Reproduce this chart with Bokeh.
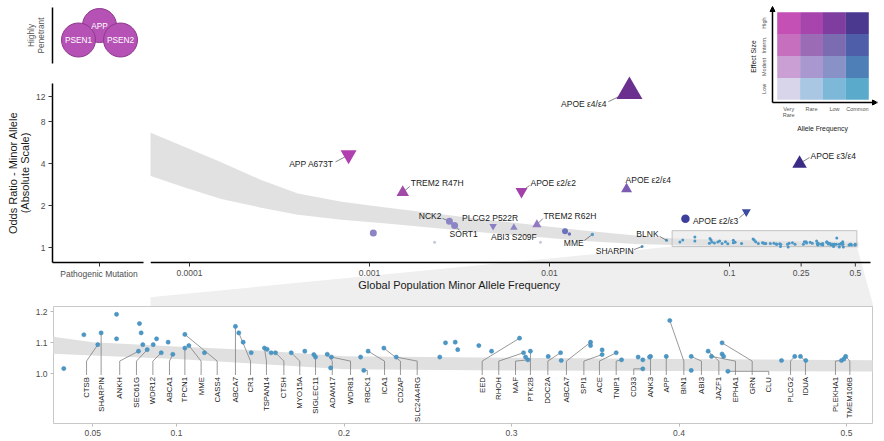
import math
from bokeh.plotting import figure
from bokeh.layouts import column, row
from bokeh.models import (Range1d, FixedTicker, CustomJSTickFormatter,
                          NumeralTickFormatter, Arrow, NormalHead)
from bokeh.core.properties import value
from bokeh.embed import file_html
from bokeh.resources import INLINE

FONT = value("Liberation Sans")
FN = "Liberation Sans"

# ------------------------------------------------------------------ data
penetrant_genes = ["APP", "PSEN1", "PSEN2"]

var_name = ["APOE ε4/ε4", "APOE ε3/ε4", "APOE ε2/ε4", "APOE ε2/ε3", "APP A673T",
            "TREM2 R47H", "APOE ε2/ε2", "TREM2 R62H", "ABI3 S209F", "PLCG2 P522R",
            "NCK2", "SORT1", "", "", "", "", "", "MME", ""]
var_maf = [0.0278, 0.245, 0.0268, 0.124, 0.000765,
           0.00153, 0.00699, 0.00851, 0.00634, 0.00486,
           0.00278, 0.00297, 0.00105, 0.0023, 0.00891, 0.0122, 0.0129, 0.0173, 0.0569]
var_or = [13.1, 4.0, 2.62, 1.80, 4.61,
          2.48, 2.52, 1.46, 1.39, 1.42,
          1.54, 1.44, 1.27, 1.09, 1.09, 1.31, 1.25, 1.24, 1.61]
var_kind = ["risk", "risk", "risk", "protective", "protective",
            "risk", "protective", "risk", "risk", "protective",
            "locus", "locus", "locus", "locus", "locus", "locus", "locus", "locus", "locus"]

# fitted curve (main panel)
fit_maf = [0.00006, 0.000095, 0.00015, 0.00025, 0.0004, 0.0007, 0.0012, 0.004, 0.015,
           0.03, 0.05, 0.1, 0.25, 0.52]
fit_lo = [3.28, 2.68, 2.23, 1.93, 1.72, 1.58, 1.49, 1.29, 1.12,
          1.06, 1.04, 1.02, 1.01, 1.00]
fit_hi = [6.70, 5.23, 4.09, 3.05, 2.44, 2.13, 1.94, 1.61, 1.33,
          1.22, 1.16, 1.13, 1.11, 1.10]

# fitted curve (zoomed common-variant panel)
zfit_maf = [0.026, 0.05, 0.1, 0.15, 0.2, 0.3, 0.4, 0.52]
zfit_lo = [1.064, 1.058, 1.047, 1.031, 1.014, 1.010, 1.008, 1.006]
zfit_hi = [1.119, 1.101, 1.087, 1.074, 1.056, 1.051, 1.047, 1.043]

# common loci (zoom panel), labelled ones
loci_gene = ["CTSB", "SHARPIN", "ANKH", "SEC61G", "WDR12", "ABCA1", "TPCN1", "MME", "CASS4",
             "ABCA7", "CR1", "TSPAN14", "CTSH", "MYO15A", "SIGLEC11", "ADAM17", "WDR81",
             "RBCK1", "ICA1", "CD2AP", "SLC24A4RG", "EED", "RHOH", "MAF", "PTK2B", "DOC2A",
             "ABCA7", "SPI1", "ACE", "TNIP1", "CD33", "ANK3", "APP", "BIN1", "ABI3", "JAZF1",
             "EPHA1", "GRN", "CLU", "PLCG2", "IDUA", "PLEKHA1", "TMEM106B"]
loci_maf = [0.053, 0.055, 0.0773, 0.0825, 0.0909, 0.0978, 0.105, 0.1074, 0.105,
            0.1352, 0.1372, 0.1525, 0.1591, 0.1685, 0.183, 0.19, 0.1925,
            0.2118, 0.2144, 0.2238, 0.2312, 0.3048, 0.3072, 0.3098, 0.3113, 0.3293,
            0.3472, 0.3541, 0.3625, 0.3657, 0.3784, 0.383, 0.3924, 0.3945, 0.4073, 0.4174,
            0.4194, 0.4257, 0.4292, 0.4691, 0.4725, 0.497, 0.4995]
loci_or = [1.093, 1.131, 1.072, 1.077, 1.067, 1.062, 1.082, 1.090, 1.126,
           1.152, 1.131, 1.082, 1.067, 1.067, 1.053, 1.062, 1.053,
           1.010, 1.072, 1.082, 1.053, 1.114, 1.067, 1.044, 1.072, 1.067,
           1.101, 1.061, 1.067, 1.044, 1.015, 1.055, 1.055, 1.171, 1.055, 1.072,
           1.055, 1.099, 1.007, 1.055, 1.055, 1.042, 1.055]
# repelled label positions (allele frequency axis)
loci_label_maf = [0.0463, 0.0550, 0.0661, 0.0761, 0.0859, 0.0958, 0.1050, 0.1147, 0.1243,
                  0.1352, 0.1442, 0.1537, 0.1641, 0.1736, 0.1830, 0.1930, 0.2039,
                  0.2139, 0.2242, 0.2337, 0.2437, 0.2825, 0.2924, 0.3024, 0.3113, 0.3217,
                  0.3328, 0.3432, 0.3525, 0.3625, 0.3730, 0.3830, 0.3924, 0.4029, 0.4134,
                  0.4238, 0.4337, 0.4437, 0.4536, 0.4666, 0.4755, 0.4934, 0.5020]
# unlabelled loci
other_maf = [0.0327, 0.0447, 0.0642, 0.0642, 0.0779, 0.0789, 0.0799, 0.0881, 0.0861, 0.095,
             0.1167, 0.1398, 0.1446, 0.1541, 0.1565, 0.1766, 0.182, 0.192, 0.2099, 0.2572,
             0.2606, 0.2664, 0.2679, 0.2805, 0.2881, 0.3084, 0.3219, 0.3297, 0.3472, 0.3541,
             0.3756, 0.3784, 0.3824, 0.4073, 0.4257, 0.4266, 0.4612, 0.4757, 0.4985]
other_or = [1.016, 1.125, 1.191, 1.112, 1.161, 1.131, 1.093, 1.112, 1.093, 1.101,
            1.067, 1.101, 1.067, 1.078, 1.067, 1.072, 1.061, 1.018, 1.053, 1.053,
            1.099, 1.101, 1.077, 1.090, 1.072, 1.053, 1.055, 1.042, 1.090, 1.076,
            1.053, 1.044, 1.053, 1.010, 1.063, 1.055, 1.042, 1.042, 1.047]
main_extra_label = ["SHARPIN", "BLNK"]        # names shown for other_maf[0], other_maf[1]

main_y_ticks = [1, 2, 4, 8, 12]
main_x_ticks = [0.0001, 0.001, 0.01, 0.1, 0.25, 0.5]
main_x_labels = ["0.0001", "0.001", "0.01", "0.1", "0.25", "0.5"]
zoom_x_ticks = [0.05, 0.1, 0.2, 0.3, 0.4, 0.5]
zoom_y_ticks = [1.0, 1.1, 1.2]

effect_levels = ["High", "Interm.", "Modest", "Low"]
freq_levels = ["Very\nRare", "Rare", "Low", "Common"]

# ------------------------------------------------------------------ styles
bivar = [["#c44fb5", "#a745ad", "#7e3d9f", "#4b3990"],
         ["#c56fbe", "#9c6bb6", "#7b6bb0", "#4f5ea8"],
         ["#caa0d4", "#a998cf", "#8992c6", "#4f7fb7"],
         ["#d8d4ea", "#a9c6e2", "#7db8d9", "#5aabcb"]]
var_color = ["#6b2f90", "#3b2b87", "#7c5bb3", "#3b4ba0", "#b13fb0",
             "#a24aa8", "#a141a9", "#9479c2", "#8a86c5", "#8a80c4",
             "#8b85c6", "#8b85c6", "#8b85c6", "#c3cadb", "#c3cadb", "#6c72ba", "#6c72ba",
             "#5a9bc8", "#3c3f9c"]
var_size = [26, 14.5, 11, 9, 16, 12.5, 12, 9, 7.5, 7.5, 7, 7, 7, 3, 3, 6, 3.5, 3.5, 8.5]
shape_of = {"risk": "triangle", "protective": "inverted_triangle", "locus": "circle"}
LOCUS = "#4b97c6"
TXT = "#1a1a1a"
TICKTXT = "#4d4d4d"

# label placement (pixel offsets from the mark)
main_place = {
    "APOE ε4/ε4": ("right", -23, 12, (-21, 10)),
    "APOE ε3/ε4": ("left", 11, -8, (10, -6)),
    "APOE ε2/ε4": ("left", -1, -9, None),
    "APOE ε2/ε3": ("right", -8, 9, (-7, 6)),
    "APP A673T": ("right", -15, 9.5, (-13, 7)),
    "TREM2 R47H": ("left", 8, -9, (7, -6)),
    "APOE ε2/ε2": ("left", 9, -8, (8, -6)),
    "TREM2 R62H": ("left", 6.5, -9, (6, -6)),
    "ABI3 S209F": ("center", 0, 9.5, None),
    "PLCG2 P522R": ("center", -3, -8.5, None),
    "NCK2": ("right", -8, -5, (-7, -3)),
    "SORT1": ("left", -5, 9, (5, 5)),
    "MME": ("right", -8.7, 8.7, (-8, 6)),
    "SHARPIN": ("right", -8.6, 4.7, (-8, 3)),
    "BLNK": ("right", -8, -6.7, (-7, -4)),
}

# ------------------------------------------------------------------ pixel calibration
def mx(px):  # page x -> allele frequency (main log panel)
    return 10 ** ((px - 189.0) / 180.0 - 4)

def my(py):  # page y -> odds ratio (main log panel)
    return 2 ** ((247.0 - py) / 42.0)

def zx(px):
    return 0.1 + (px - 176.0) / 1675.0

def zy(py):
    return 1.0 + (373.0 - py) / 310.0

def moff(m, o, dx, dy):
    return m * 10 ** (dx / 180.0), o * 2 ** (-dy / 42.0)

common = dict(toolbar_location=None, output_backend="svg")

# ------------------------------------------------------------------ L1: highly penetrant
L1 = figure(width=145, height=64, x_range=Range1d(0, 1), y_range=Range1d(0, 1),
            x_axis_location=None, min_border_left=52, min_border_right=0,
            min_border_top=7, min_border_bottom=1, **common)
L1.grid.visible = False
L1.outline_line_color = None
a = L1.yaxis[0]
a.ticker = FixedTicker(ticks=[])
a.axis_label = "Highly\nPenetrant"
a.axis_label_text_font = FN
a.axis_label_text_font_size = "8.3px"
a.axis_label_text_font_style = "normal"
a.axis_label_text_color = "#555555"
a.axis_label_text_line_height = 1.0
a.axis_label_standoff = 7
a.axis_line_width = 1.5
a.axis_line_color = "black"
a.major_tick_line_color = None
a.minor_tick_line_color = None

def l1x(px):
    return (px - 52.0) / 93.0

def l1y(py):
    return (63.0 - py) / 56.0

pen_px = [(99, 25), (78, 39.5), (120, 39.5)]
L1.scatter([l1x(p[0]) for p in pen_px], [l1y(p[1]) for p in pen_px], size=34,
           marker="circle", fill_color="#b652b5", line_color="#8d3a8c", line_width=1)
L1.text([l1x(p[0]) for p in pen_px], [l1y(p[1]) for p in pen_px], text=penetrant_genes,
        text_font=FONT, text_font_size="8.3px", text_color="white",
        text_align="center", text_baseline="middle")

# ------------------------------------------------------------------ L2: pathogenic panel
L2 = figure(width=145, height=242, x_range=Range1d(0, 1), y_axis_type="log",
            y_range=Range1d(my(262), my(83)), min_border_left=52, min_border_right=0,
            min_border_top=19, min_border_bottom=44, **common)
L2.grid.visible = False
L2.outline_line_color = None
ya = L2.yaxis[0]
ya.ticker = FixedTicker(ticks=main_y_ticks)
ya.formatter = CustomJSTickFormatter(code="return String(Math.round(tick));")
ya.axis_label = "Odds Ratio - Minor Allele\n(Absolute Scale)"
ya.axis_label_text_font = FN
ya.axis_label_text_font_size = "11px"
ya.axis_label_text_font_style = "normal"
ya.axis_label_text_color = TXT
ya.axis_label_text_line_height = 1.0
ya.axis_label_standoff = 2
xa = L2.xaxis[0]
xa.ticker = FixedTicker(ticks=[0.5])
xa.formatter = CustomJSTickFormatter(code="return 'Pathogenic Mutation';")
xa.bounds = (0, 0.978)
for ax in (ya, xa):
    ax.axis_line_width = 1.5
    ax.axis_line_color = "black"
    ax.major_tick_line_color = "#333333"
    ax.major_tick_in = 0
    ax.major_tick_out = 4
    ax.minor_tick_line_color = None
    ax.major_label_text_font = FN
    ax.major_label_text_font_size = "8.5px"
    ax.major_label_text_color = TICKTXT
ya.major_label_standoff = 3
xa.major_label_standoff = 2

# ------------------------------------------------------------------ R: main log panel
R = figure(width=739, height=306, x_axis_type="log", y_axis_type="log",
           x_range=Range1d(mx(150), mx(876)), y_range=Range1d(my(306), my(0)),
           x_axis_location=None, y_axis_location=None,
           min_border_left=5, min_border_right=8, min_border_top=0, min_border_bottom=0,
           **common)
R.outline_line_color = None
R.grid.visible = False
R.xgrid.grid_line_color = None
R.ygrid.grid_line_color = None

box_l, box_r, box_b, box_t = 0.048, 0.51, 1.015, 1.32
# zoom connector
R.patch([box_l, box_r, mx(873), mx(53)], [box_b, box_b, my(306), my(306)],
        fill_color="#efefef", line_color=None)
# fitted ribbon
R.varea(x=fit_maf, y1=fit_lo, y2=fit_hi, fill_color="#dedede", fill_alpha=0.9)
# highlight box
R.quad(left=[box_l], right=[box_r], bottom=[box_b], top=[box_t],
       fill_color="#e4e4e4", fill_alpha=0.55, line_color="#c2c2c2", line_width=1)

# x axis drawn inside the panel (so that the connector runs behind it)
R.segment(x0=[mx(150)], y0=[my(262)], x1=[mx(870)], y1=[my(262)],
          line_color="black", line_width=1.5)
R.segment(x0=main_x_ticks, y0=[my(262)] * len(main_x_ticks),
          x1=main_x_ticks, y1=[my(266)] * len(main_x_ticks),
          line_color="#333333", line_width=1)
R.text(main_x_ticks, [my(272.5)] * len(main_x_ticks), text=main_x_labels,
       text_font=FONT, text_font_size="8.5px", text_color=TICKTXT,
       text_align="center", text_baseline="middle")
R.text([mx(459)], [my(284)], text=["Global Population Minor Allele Frequency"],
       text_font=FONT, text_font_size="11px", text_color=TXT,
       text_align="center", text_baseline="middle")

# common loci (small)
R.scatter(loci_maf + other_maf, loci_or + other_or, size=3, marker="circle",
          fill_color=LOCUS, line_color=None)

# label positions for the main panel
lab_pts = {}
for n, m, o in zip(var_name, var_maf, var_or):
    if n:
        lab_pts[n] = (m, o)
for n, m, o in zip(main_extra_label, other_maf[:2], other_or[:2]):
    lab_pts[n] = (m, o)

lx0, ly0, lx1, ly1 = [], [], [], []
for n, (align, dx, dy, lead) in main_place.items():
    if lead is None:
        continue
    m, o = lab_pts[n]
    a1, b1 = moff(m, o, lead[0], lead[1])
    lx0.append(a1); ly0.append(b1); lx1.append(m); ly1.append(o)
R.segment(x0=lx0, y0=ly0, x1=lx1, y1=ly1, line_color="#666666", line_width=0.8)

for kind in ("locus", "risk", "protective"):
    idx = [i for i, k in enumerate(var_kind) if k == kind]
    R.scatter([var_maf[i] for i in idx], [var_or[i] for i in idx],
              size=[var_size[i] for i in idx], marker=shape_of[kind],
              fill_color=[var_color[i] for i in idx], line_color=None)

for align in ("left", "right", "center"):
    xs, ys, ts = [], [], []
    for n, (al, dx, dy, lead) in main_place.items():
        if al != align:
            continue
        m, o = lab_pts[n]
        a1, b1 = moff(m, o, dx, dy)
        xs.append(a1); ys.append(b1); ts.append(n)
    R.text(xs, ys, text=ts, text_font=FONT, text_font_size="8.5px", text_color=TXT,
           text_align=align, text_baseline="middle")

# bivariate colour key
cw, ch = 22.9, 21.9
qx0, qx1, qy0, qy1, qc = [], [], [], [], []
for i in range(4):
    for j in range(4):
        qx0.append(mx(776.7 + cw * j)); qx1.append(mx(776.7 + cw * (j + 1)))
        qy1.append(my(11.7 + ch * i)); qy0.append(my(11.7 + ch * (i + 1)))
        qc.append(bivar[i][j])
R.quad(left=qx0, right=qx1, bottom=qy0, top=qy1, fill_color=qc, line_color=None)
R.add_layout(Arrow(end=NormalHead(size=5, fill_color="black", line_color="black"),
                   x_start=mx(772), y_start=my(102), x_end=mx(772), y_end=my(6),
                   line_width=1.5, line_color="black"))
R.add_layout(Arrow(end=NormalHead(size=5, fill_color="black", line_color="black"),
                   x_start=mx(772), y_start=my(102), x_end=mx(877), y_end=my(102),
                   line_width=1.5, line_color="black"))
R.text([mx(763)] * 4, [my(11.7 + ch * (i + 0.5)) for i in range(4)], text=effect_levels,
       angle=math.pi / 2, text_font=FONT, text_font_size="5.5px", text_color="#555555",
       text_align="center", text_baseline="middle")
R.text([mx(753)], [my(56)], text=["Effect Size"], angle=math.pi / 2, text_font=FONT,
       text_font_size="6.8px", text_color=TXT, text_align="center", text_baseline="middle")
R.text([mx(776.7 + cw * (j + 0.5)) for j in range(4)], [my(105)] * 4, text=freq_levels,
       text_font=FONT, text_font_size="5.5px", text_color="#555555",
       text_align="center", text_baseline="top", text_line_height=1.1)
R.text([mx(822)], [my(127.5)], text=["Allele Frequency"], text_font=FONT,
       text_font_size="6.8px", text_color=TXT, text_align="center", text_baseline="middle")

# ------------------------------------------------------------------ Z: zoomed panel
Z = figure(width=884, height=135, x_range=Range1d(zx(53), zx(872)),
           y_range=Range1d(zy(423), zy(306)), min_border_left=53, min_border_right=12,
           min_border_top=0, min_border_bottom=18, **common)
Z.grid.visible = False
Z.outline_line_color = "#c8c8c8"
Z.outline_line_width = 1
zya, zxa = Z.yaxis[0], Z.xaxis[0]
zya.ticker = FixedTicker(ticks=zoom_y_ticks)
zya.formatter = NumeralTickFormatter(format="0.0")
zxa.ticker = FixedTicker(ticks=zoom_x_ticks)
zxa.formatter = NumeralTickFormatter(format="0.0[0]")
for ax in (zya, zxa):
    ax.axis_line_color = None
    ax.major_tick_line_color = "#bbbbbb"
    ax.major_tick_in = 0
    ax.major_tick_out = 3
    ax.minor_tick_line_color = None
    ax.major_label_text_font = FN
    ax.major_label_text_font_size = "8.5px"
    ax.major_label_text_color = TICKTXT
    ax.major_label_standoff = 3

Z.varea(x=zfit_maf, y1=zfit_lo, y2=zfit_hi, fill_color="#e0e0e0")
top_or = zy(374.5)
mxs, mys = [], []
for m, o, lm in zip(loci_maf, loci_or, loci_label_maf):
    knee = min(o, 1.04)
    mxs.append([m, lm, lm]); mys.append([o, knee, top_or])
Z.multi_line(mxs, mys, line_color="#7f7f7f", line_width=0.8)
Z.scatter(loci_maf + other_maf, loci_or + other_or, size=4.2, marker="circle",
          fill_color=LOCUS, line_color="#3f86b5", line_width=0.5)
Z.text(loci_label_maf, [zy(376.5)] * len(loci_gene), text=loci_gene, angle=math.pi / 2,
       text_font=FONT, text_font_size="7.8px", text_color=TXT,
       text_align="right", text_baseline="middle")

layout = column(row(column(L1, L2, spacing=0), R, spacing=0), Z, spacing=0)
open("out.html", "w").write(file_html(layout, INLINE))
